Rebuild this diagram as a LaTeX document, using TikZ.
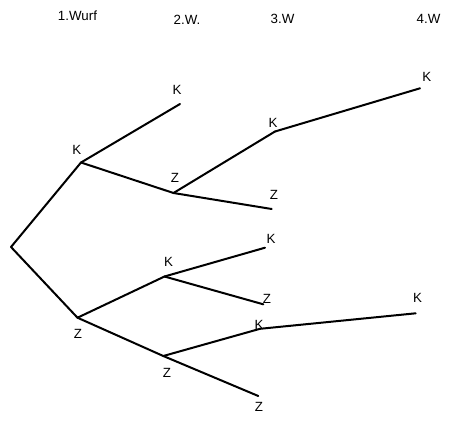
\documentclass[tikz,border=0pt]{standalone}
\usepackage{fontspec}
\setmainfont{Liberation Sans}
\begin{document}
\begin{tikzpicture}[
		x=0.75pt, y=-0.75pt,
		ast/.style = {line width=1.5pt, line cap=round},
		lab/.style = {font=\fontsize{10}{12}\selectfont, inner sep=0pt},
		]
		\useasboundingbox (0,0) rectangle (452,421);
		
		%Header
		\node[lab]	(w1)	at	(77.5, 15.5)	{1.Wurf};
		\node[lab]	(w2)	at	(187, 19.5)		{2.W.};
		\node[lab]	(w3)	at	(282.5, 18.5)	{3.W};
		\node[lab]	(w4)	at	(428.5, 18.5)	{4.W};
		
		%Nodes
		\coordinate	(s)		at	(11, 247);
		\coordinate	(k)		at	(81, 162.5);
		\coordinate	(z)		at	(77.5, 317.7);
		\coordinate	(kk)	at	(180, 104);
		\coordinate	(kz)	at	(173.5, 193);
		\coordinate	(kzk)	at	(275, 131.5);
		\coordinate	(kzz)	at	(271.7, 209);
		\coordinate	(kzkk)	at	(420, 88.3);
		\coordinate	(zk)	at	(164.5, 276.5);
		\coordinate	(zz)	at	(163.3, 356);
		\coordinate	(zkk)	at	(265, 247.7);
		\coordinate	(zkz)	at	(263.3, 304.3);
		\coordinate	(zzk)	at	(260, 328.8);
		\coordinate	(zzz)	at	(258.3, 396);
		\coordinate	(zzkk)	at	(415.7, 313.3);
		
		%Labels
		\node[lab]	(lk)	at	(76.7, 150)		{K};
		\node[lab]	(lz)	at	(78, 333.5)		{Z};
		\node[lab]	(lkk)	at	(177, 90)		{K};
		\node[lab]	(lkz)	at	(175, 178)		{Z};
		\node[lab]	(lkzk)	at	(273, 123)		{K};
		\node[lab]	(lkzz)	at	(274, 195)		{Z};
		\node[lab]	(lkzkk)	at	(426.7, 76.7)	{K};
		\node[lab]	(lzk)	at	(168.5, 262)	{K};
		\node[lab]	(lzz)	at	(167, 372.5)	{Z};
		\node[lab]	(lzkk)	at	(271, 239)		{K};
		\node[lab]	(lzkz)	at	(267, 298.5)	{Z};
		\node[lab]	(lzzk)	at	(259, 325)		{K};
		\node[lab]	(lzzz)	at	(259, 406.5)	{Z};
		\node[lab]	(lzzkk)	at	(417.5, 298)	{K};
		
		%Branches
		\draw[ast]	(s)		--	(k);
		\draw[ast]	(s)		--	(z);
		\draw[ast]	(k)		--	(kk);
		\draw[ast]	(k)		--	(kz);
		\draw[ast]	(kz)	--	(kzk);
		\draw[ast]	(kz)	--	(kzz);
		\draw[ast]	(kzk)	--	(kzkk);
		\draw[ast]	(z)		--	(zk);
		\draw[ast]	(z)		--	(zz);
		\draw[ast]	(zk)	--	(zkk);
		\draw[ast]	(zk)	--	(zkz);
		\draw[ast]	(zz)	--	(zzk);
		\draw[ast]	(zz)	--	(zzz);
		\draw[ast]	(zzk)	--	(zzkk);
	\end{tikzpicture}
\end{document}
